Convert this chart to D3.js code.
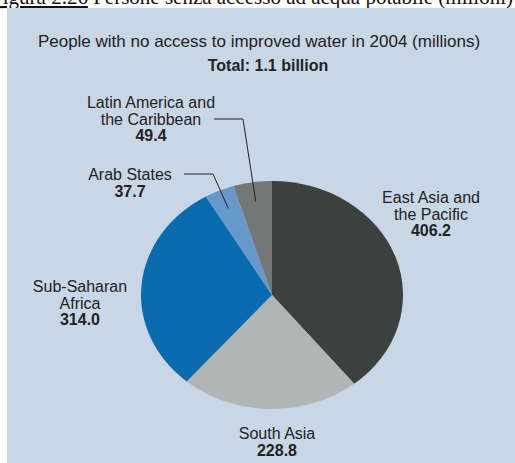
<!DOCTYPE html>
<html lang="en">
  <head>
    <meta charset="utf-8">
    <title>People with no access to improved water</title>
    <script type="text/javascript" src="https://cdn.jsdelivr.net/npm/d3@7"></script>
    <style>
      body { margin: 0; background: #fff; }
      svg { display: block; }
      .lbl { font-family: "Liberation Sans", Arial, sans-serif; font-size: 16px; fill: #222; }
      .num { font-weight: bold; }
      .leader { fill: none; stroke: #222; stroke-width: 1; }
    </style>
  </head>
  <body>
    <script type="text/javascript">

      var w = 515;
      var h = 463;

      // data, clockwise from 12 o'clock
      var regions = ["East Asia and the Pacific", "South Asia", "Sub-Saharan Africa", "Arab States", "Latin America and the Caribbean"];
      var values = [406.2, 228.8, 314.0, 37.7, 49.4];
      var valueLabels = ["406.2", "228.8", "314.0", "37.7", "49.4"];
      var labelLines = [
        ["East Asia and", "the Pacific"],
        ["South Asia"],
        ["Sub-Saharan", "Africa"],
        ["Arab States"],
        ["Latin America and", "the Caribbean"]
      ];
      var colors = ["#3c4140", "#b1b6b4", "#0a6caf", "#6798cb", "#737877"];

      // layout of labels (text centre x, first baseline y, optional leader elbow)
      var labelPos = [
        {x: 431, y: 203},
        {x: 277, y: 439},
        {x: 80,  y: 292},
        {x: 130, y: 180, lead: [[184, 174], [213, 174]]},
        {x: 151, y: 108, lead: [[214, 119], [243, 119]]}
      ];

      var cx = 272, cy = 295, rx = 131, ry = 114;

      var svg = d3.select("body")
                  .append("svg")
                  .attr("width", w)
                  .attr("height", h);

      // caption from the source document, mostly cut off at the top
      var cap = svg.append("text")
                   .attr("x", 513)
                   .attr("y", 4)
                   .attr("text-anchor", "end")
                   .attr("font-family", "'Liberation Serif', 'Times New Roman', serif")
                   .attr("font-size", "21px")
                   .attr("fill", "#111");
      cap.append("tspan").attr("text-decoration", "underline").text("Figura 2.26");
      cap.append("tspan").text(" Persone senza accesso ad acqua potabile (milioni)");

      svg.append("rect")
         .attr("x", 7)
         .attr("y", 8)
         .attr("width", w)
         .attr("height", h)
         .attr("fill", "#c9d6e6");

      svg.append("text")
         .attr("class", "lbl")
         .attr("x", 259)
         .attr("y", 47)
         .attr("text-anchor", "middle")
         .style("font-size", "17px")
         .text("People with no access to improved water in 2004 (millions)");

      svg.append("text")
         .attr("class", "lbl num")
         .attr("x", 268)
         .attr("y", 71)
         .attr("text-anchor", "middle")
         .text("Total: 1.1 billion");

      var pie = d3.pie().sort(null).value(function(d) { return d; });
      var arcs = pie(values);

      var arc = d3.arc().innerRadius(0).outerRadius(rx);

      svg.append("g")
         .attr("transform", "translate(" + cx + "," + cy + ") scale(1," + (ry / rx) + ")")
         .selectAll("path")
         .data(arcs)
         .enter()
         .append("path")
         .attr("d", arc)
         .attr("fill", function(d, i) { return colors[i]; });

      // leader lines end inside the small slices
      arcs.forEach(function(d, i) {
        var p = labelPos[i];
        if (!p.lead) return;
        var a = (d.startAngle + d.endAngle) / 2;
        var end = [cx + Math.sin(a) * rx * 0.83, cy - Math.cos(a) * ry * 0.83];
        svg.append("path")
           .attr("class", "leader")
           .attr("d", d3.line()(p.lead.concat([end])));
      });

      labelLines.forEach(function(lines, i) {
        var p = labelPos[i];
        var t = svg.append("text")
                   .attr("class", "lbl")
                   .attr("text-anchor", "middle");
        lines.forEach(function(s, j) {
          t.append("tspan")
           .attr("x", p.x)
           .attr("y", p.y + j * 16.5)
           .text(s);
        });
        t.append("tspan")
         .attr("class", "num")
         .attr("x", p.x)
         .attr("y", p.y + lines.length * 16.5)
         .text(valueLabels[i]);
      });

    </script>
  </body>
</html>
